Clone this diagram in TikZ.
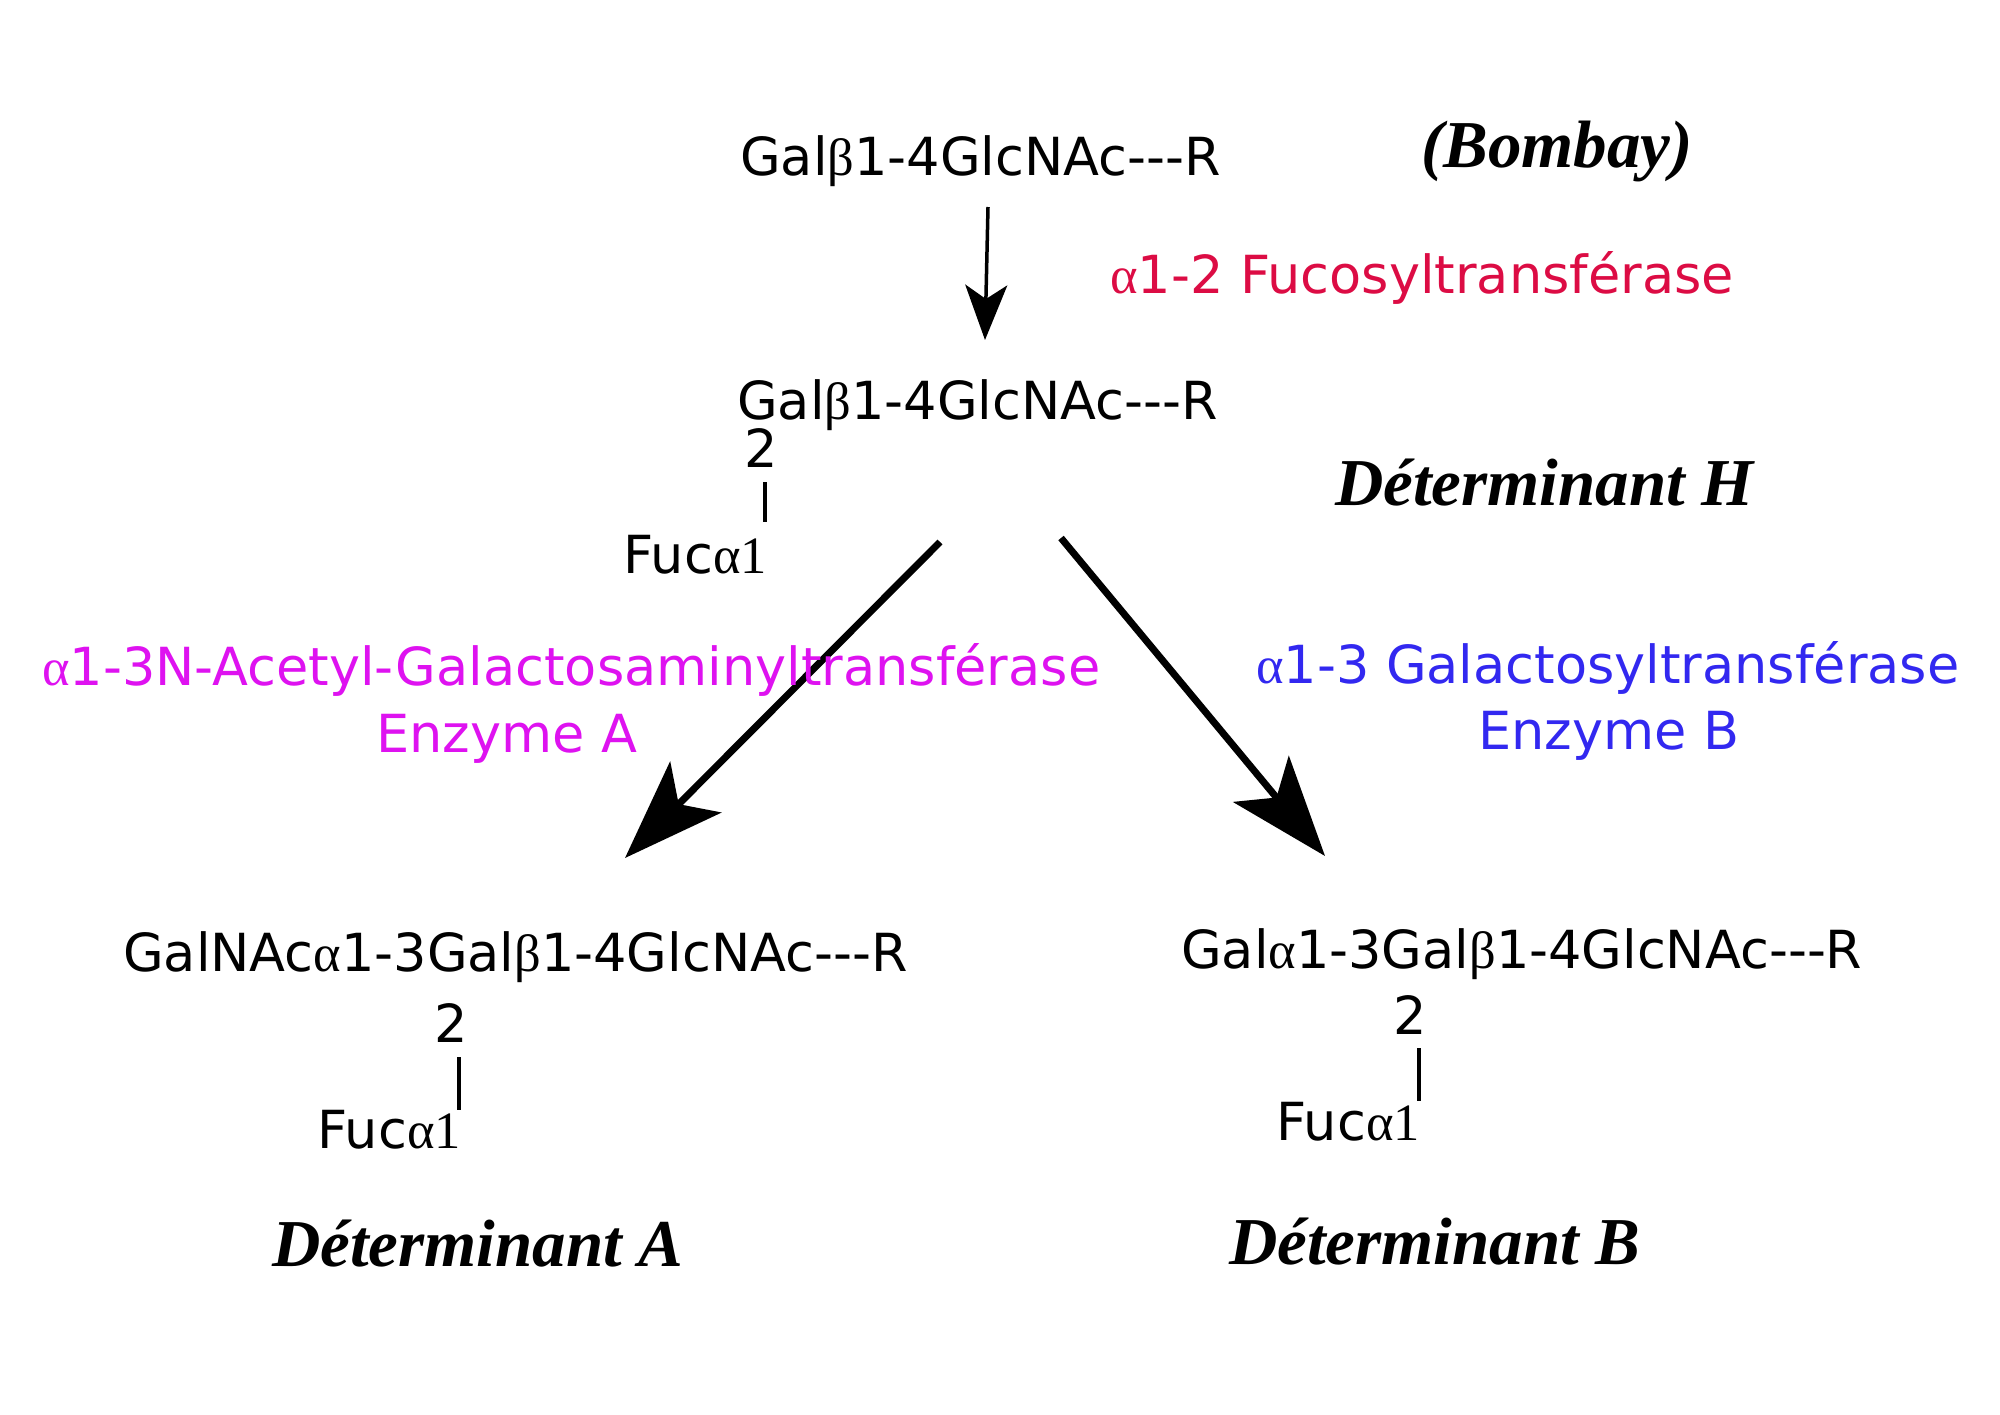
\documentclass[tikz,border=0pt]{standalone}
\usepackage{fontspec}
\setmainfont{DejaVu Sans}[Ligatures=TeXOff]
\newfontfamily\gr{Liberation Serif}[Ligatures=TeXOff]
\newfontfamily\tbi{Liberation Serif}
\usetikzlibrary{arrows.meta}
\definecolor{cred}{RGB}{220,12,68}
\definecolor{cmag}{RGB}{222,18,240}
\definecolor{cblue}{RGB}{50,40,240}
\tikzset{
  chem/.style={inner sep=0pt, font=\fontsize{52.5}{60}\selectfont},
  title/.style={inner sep=0pt, font=\fontsize{67}{76}\selectfont\tbi\bfseries\itshape},
  bond/.style={line width=4.5pt},
  thinarrow/.style={line width=3.5pt, -{Stealth[length=55pt,width=42pt,inset=14pt]}},
  thickarrow/.style={line width=7pt, -{Stealth[length=100pt,width=72pt,inset=24pt]}},
}
\begin{document}
\begin{tikzpicture}[x=1pt,y=-1pt]
\useasboundingbox (0,0) rectangle (2000,1414);
% top
\node[chem, anchor=base west] (t1) at (740,175) {Gal{\gr β}1-4GlcNAc---R};
\node[title, anchor=base west] (bombay) at (1421,167) {(Bombay)};
\node[chem, anchor=base west, text=cred] (fucT) at (1110,293) {{\gr α}1-2 Fucosyltransférase};
% H
\node[chem, anchor=base west] (t2) at (737,419) {Gal{\gr β}1-4GlcNAc---R};
\node[chem, anchor=base west] (two1) at (744,467) {2};
\node[chem, anchor=base east] (fuc1) at (767,573) {Fuc{\gr α1}};
\coordinate (b1a) at (765,482);
\coordinate (b1b) at (765,522);
\draw[bond] (b1a) -- (b1b);
\node[title, anchor=base west] (detH) at (1335,505) {Déterminant H};
% arrows
\coordinate (a1s) at (988,207);
\coordinate (a1e) at (985,340);
\draw[thinarrow] (a1s) -- (a1e);
\coordinate (aAs) at (940,542);
\coordinate (aAe) at (625,858);
\draw[thickarrow] (aAs) -- (aAe);
\coordinate (aBs) at (1061,538);
\coordinate (aBe) at (1325,856);
\draw[thickarrow] (aBs) -- (aBe);
% enzymes
\node[chem, anchor=base west, text=cmag] (enzA1) at (42,685) {{\gr α}1-3N-Acetyl-Galactosaminyltransférase};
\node[chem, anchor=base west, text=cmag] (enzA2) at (376,752) {Enzyme A};
\node[chem, anchor=base west, text=cblue] (enzB1) at (1256,683) {{\gr α}1-3 Galactosyltransférase};
\node[chem, anchor=base west, text=cblue] (enzB2) at (1478,749) {Enzyme B};
% A
\node[chem, anchor=base west] (tA) at (123,971) {GalNAc{\gr α}1-3Gal{\gr β}1-4GlcNAc---R};
\node[chem, anchor=base west] (twoA) at (434,1042) {2};
\coordinate (bAa) at (459,1057);
\coordinate (bAb) at (459,1110);
\draw[bond] (bAa) -- (bAb);
\node[chem, anchor=base east] (fucA) at (461,1148) {Fuc{\gr α1}};
\node[title, anchor=base west] (detA) at (272,1266) {Déterminant A};
% B
\node[chem, anchor=base west] (tB) at (1181,968) {Gal{\gr α}1-3Gal{\gr β}1-4GlcNAc---R};
\node[chem, anchor=base west] (twoB) at (1393,1034) {2};
\coordinate (bBa) at (1419,1048);
\coordinate (bBb) at (1419,1101);
\draw[bond] (bBa) -- (bBb);
\node[chem, anchor=base east] (fucB) at (1420,1140) {Fuc{\gr α1}};
\node[title, anchor=base west] (detB) at (1229,1264) {Déterminant B};
\end{tikzpicture}
\end{document}
